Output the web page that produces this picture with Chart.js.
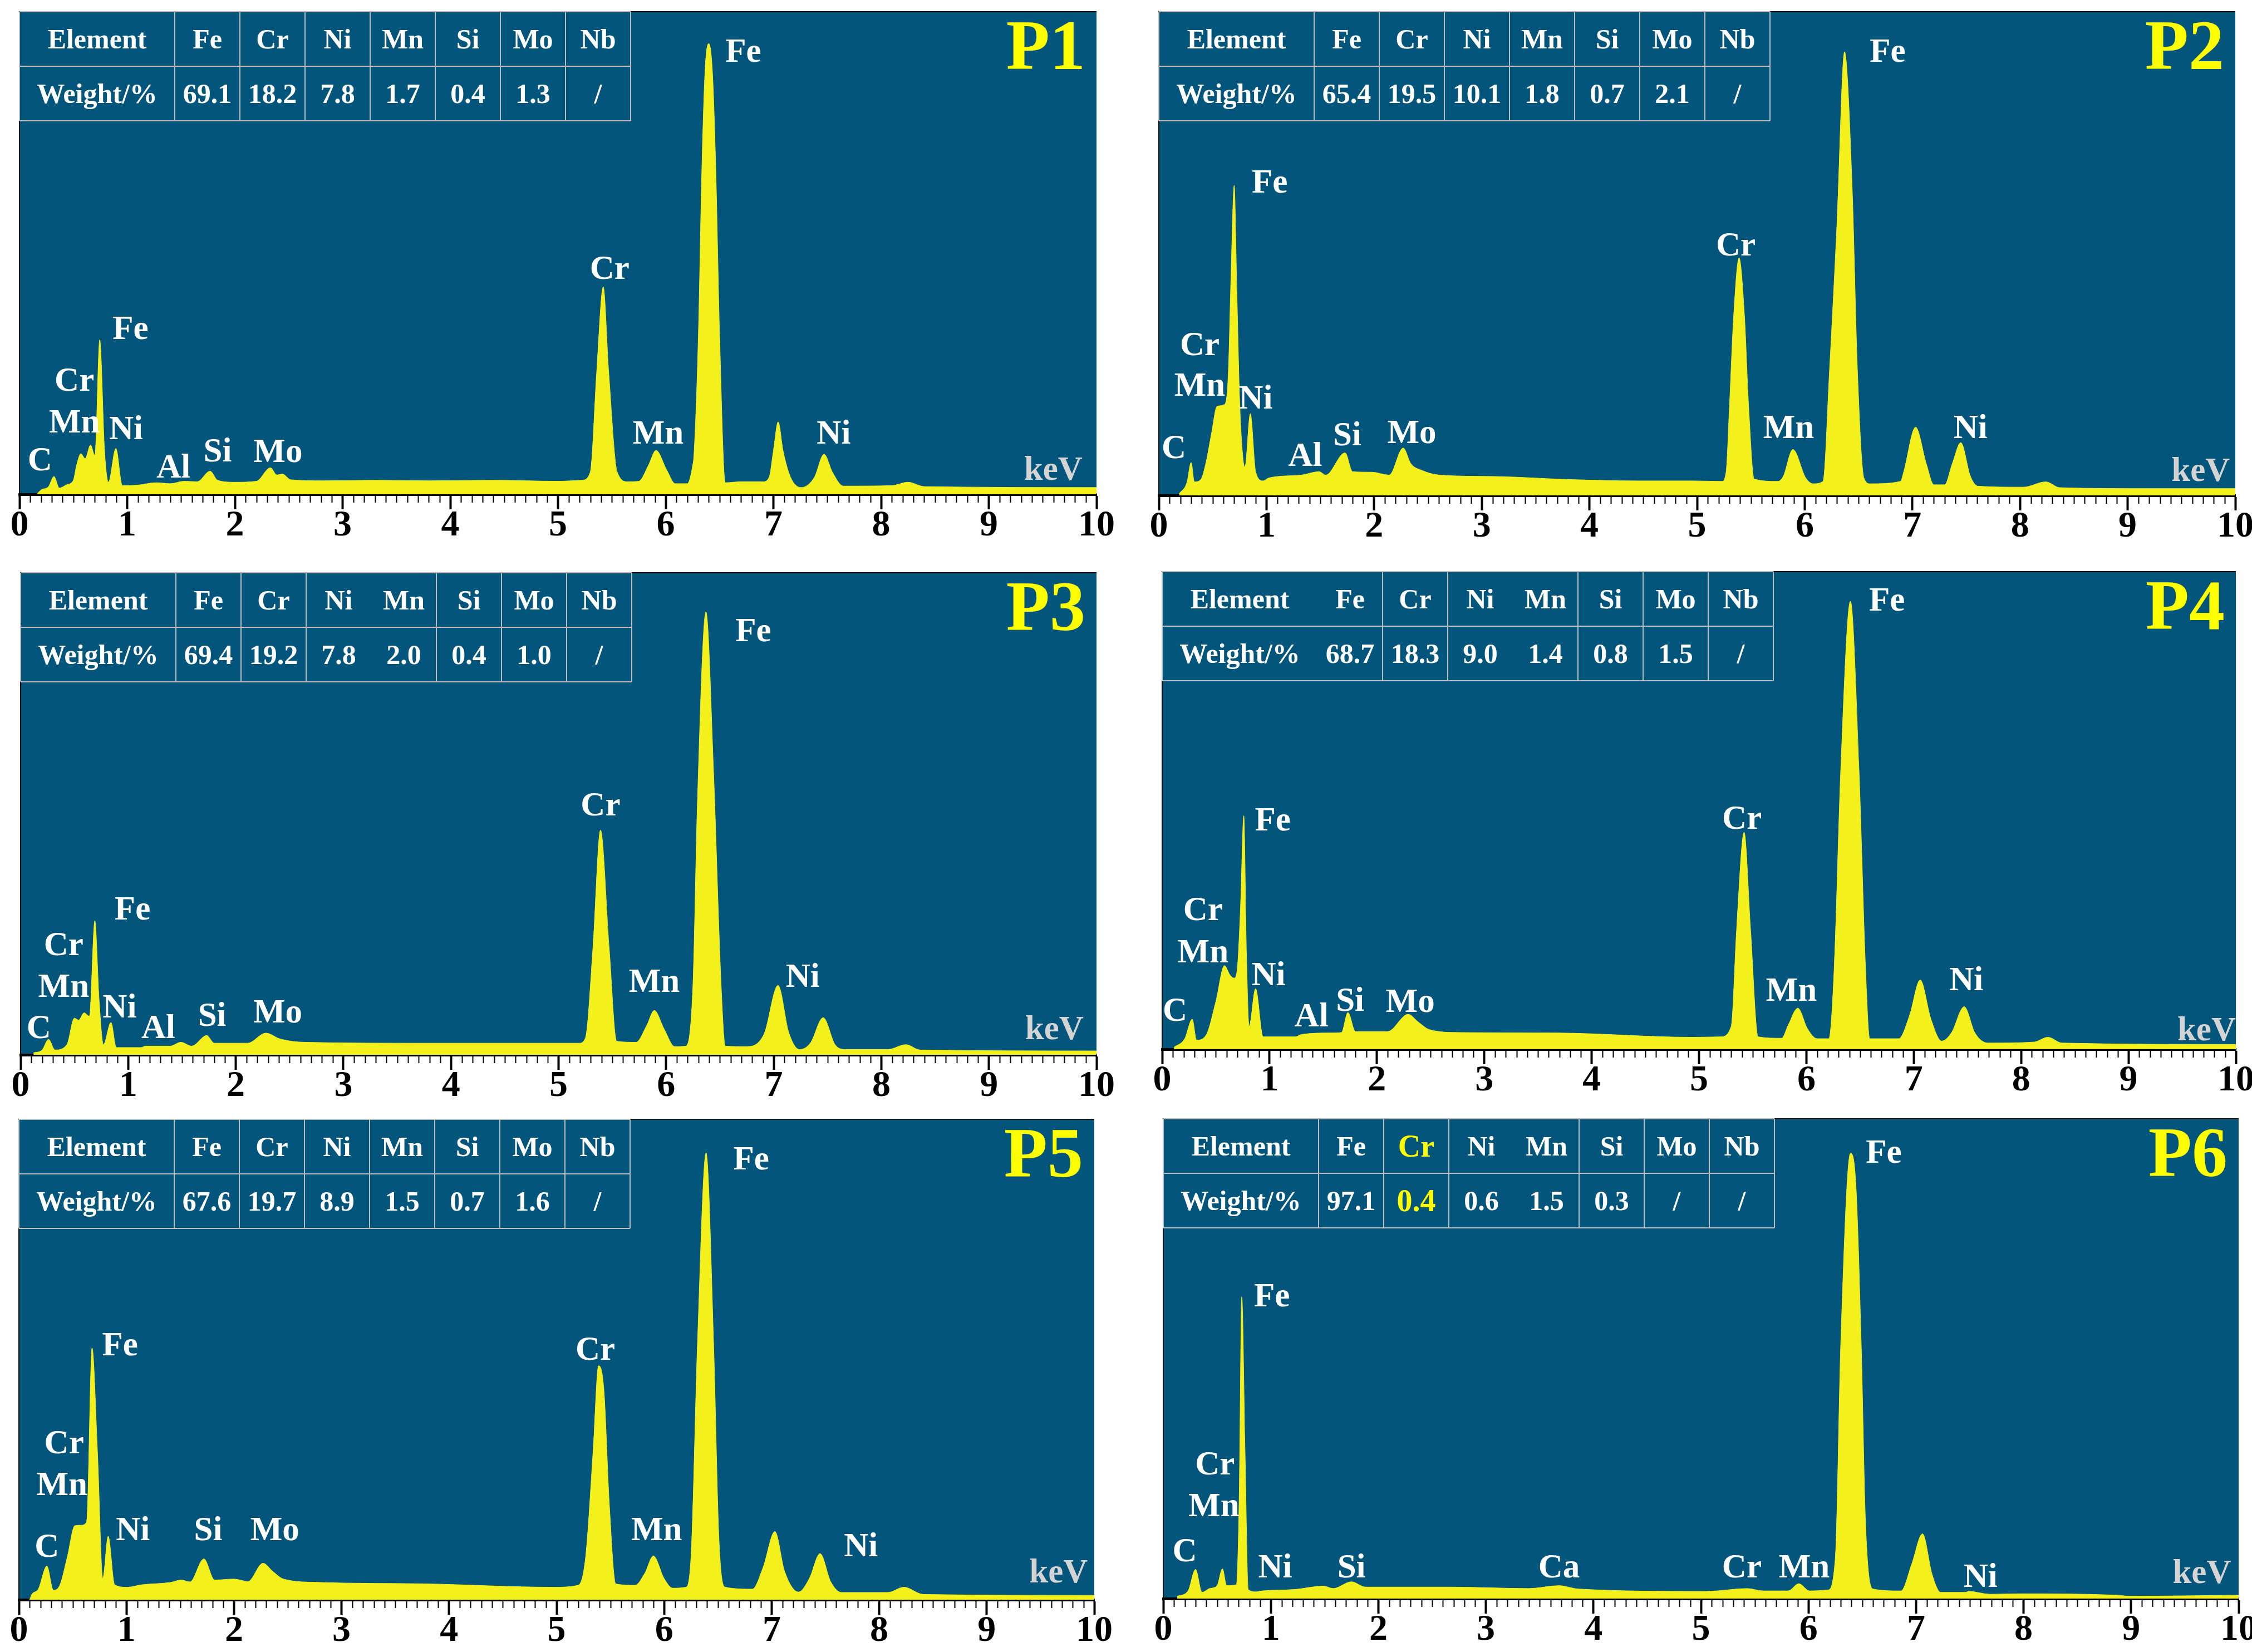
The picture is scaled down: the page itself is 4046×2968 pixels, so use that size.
<!DOCTYPE html>
<html>
<head>
<meta charset="utf-8">
<script src="https://cdn.jsdelivr.net/npm/chart.js@4.4.1/dist/chart.umd.min.js"></script>
<style>
  html, body { margin: 0; padding: 0; background: #fff; }
  body { width: 4046px; height: 2968px; position: relative; overflow: hidden; }
  canvas { position: absolute; }
</style>
</head>
<body>
<script>
// table
const elements = ["Fe", "Cr", "Ni", "Mn", "Si", "Mo", "Nb"];
const p1Weight = ["69.1", "18.2", "7.8", "1.7", "0.4", "1.3", "/"];
const p2Weight = ["65.4", "19.5", "10.1", "1.8", "0.7", "2.1", "/"];
const p3Weight = ["69.4", "19.2", "7.8", "2.0", "0.4", "1.0", "/"];
const p4Weight = ["68.7", "18.3", "9.0", "1.4", "0.8", "1.5", "/"];
const p5Weight = ["67.6", "19.7", "8.9", "1.5", "0.7", "1.6", "/"];
const p6Weight = ["97.1", "0.4", "0.6", "1.5", "0.3", "/", "/"];

const xTicks = [0, 1, 2, 3, 4, 5, 6, 7, 8, 9, 10];

// spectra (keV, counts as % of full scale)
const p1Kev = [0.16, 0.2, 0.27, 0.32, 0.37, 0.44, 0.5, 0.53, 0.57, 0.61, 0.66, 0.7, 0.745, 0.79, 0.826, 0.895, 0.955, 1.1, 1.27, 1.4, 1.53, 1.65, 1.77, 1.84, 2.0, 2.2, 2.33, 2.39, 2.44, 2.52, 2.82, 3.3, 3.8, 4.4, 5.0, 5.22, 5.3, 5.36, 5.42, 5.47, 5.55, 5.65, 5.75, 5.84, 5.91, 6.01, 6.09, 6.2, 6.25, 6.263, 6.303, 6.336, 6.365, 6.4, 6.435, 6.465, 6.501, 6.553, 6.7, 6.9, 6.96, 7.0, 7.044, 7.09, 7.16, 7.26, 7.38, 7.47, 7.55, 7.65, 8.1, 8.25, 8.4, 10.0];
const p1Counts = [0, 0.9, 1.6, 3.7, 1.3, 2.0, 2.9, 6.0, 8.4, 7.4, 10.2, 8.0, 32.0, 9.0, 2.5, 9.5, 1.8, 1.9, 2.4, 2.2, 2.7, 2.6, 4.8, 2.9, 2.5, 2.7, 5.5, 4.0, 4.2, 3.0, 2.8, 2.9, 2.8, 2.9, 2.7, 2.9, 4.6, 25.6, 43.0, 25.6, 4.6, 2.6, 2.7, 6.0, 9.1, 5.0, 2.2, 2.2, 5.9, 8.4, 32.6, 67.5, 87.6, 93.4, 87.0, 67.5, 32.6, 2.4, 2.6, 2.6, 3.5, 9.0, 15.0, 9.0, 3.5, 1.4, 3.5, 8.3, 4.5, 1.7, 1.8, 2.5, 1.6, 1.4];

const p2Kev = [0.19, 0.26, 0.3, 0.33, 0.39, 0.44, 0.49, 0.54, 0.61, 0.645, 0.67, 0.7, 0.725, 0.75, 0.78, 0.8, 0.85, 0.9, 0.97, 1.02, 1.32, 1.49, 1.55, 1.73, 1.8, 1.98, 2.14, 2.27, 2.34, 2.44, 2.61, 3.13, 3.79, 4.45, 4.95, 5.23, 5.27, 5.3, 5.34, 5.39, 5.44, 5.48, 5.53, 5.75, 5.8, 5.89, 6.01, 6.08, 6.17, 6.23, 6.3, 6.37, 6.44, 6.49, 6.55, 6.61, 6.89, 6.92, 7.03, 7.13, 7.2, 7.3, 7.37, 7.45, 7.54, 7.61, 8.03, 8.24, 8.37, 9.23, 10.0];
const p2Counts = [0.4, 2.6, 6.8, 2.8, 3.3, 7.0, 12.9, 18.4, 18.8, 25.0, 45.0, 64.1, 42.0, 20.0, 8.0, 5.9, 16.9, 4.8, 3.0, 3.6, 4.2, 4.9, 4.2, 8.8, 4.9, 4.8, 4.2, 9.8, 6.6, 5.2, 4.2, 3.9, 3.3, 3.0, 3.0, 2.9, 4.9, 18.0, 37.2, 49.1, 37.2, 18.0, 3.4, 2.9, 3.9, 9.5, 3.6, 2.4, 2.9, 25.7, 56.3, 91.7, 64.0, 25.7, 3.6, 2.4, 2.9, 4.9, 14.1, 6.5, 2.2, 2.2, 6.5, 10.9, 3.9, 1.9, 1.7, 2.8, 1.6, 1.4, 1.4];

const p3Kev = [0.12, 0.2, 0.26, 0.32, 0.43, 0.5, 0.54, 0.59, 0.64, 0.69, 0.73, 0.77, 0.84, 0.89, 1.12, 1.16, 1.39, 1.49, 1.59, 1.73, 1.8, 2.11, 2.28, 2.41, 2.64, 3.77, 5.19, 5.25, 5.32, 5.39, 5.47, 5.54, 5.72, 5.82, 5.89, 5.98, 6.08, 6.18, 6.25, 6.29, 6.37, 6.44, 6.51, 6.55, 6.74, 6.91, 7.04, 7.14, 7.24, 7.34, 7.46, 7.57, 7.67, 8.06, 8.23, 8.36, 10.0];
const p3Counts = [0.4, 1.0, 3.2, 1.0, 2.1, 7.6, 7.2, 8.7, 8.0, 27.8, 11.3, 2.1, 6.7, 1.5, 1.5, 1.8, 1.8, 2.6, 1.8, 4.0, 2.4, 2.4, 4.5, 3.3, 2.6, 2.4, 2.4, 3.5, 22.3, 46.6, 22.3, 2.8, 2.6, 6.1, 9.2, 5.4, 1.7, 1.8, 15.0, 51.8, 91.9, 59.1, 15.0, 1.8, 1.7, 4.3, 14.4, 4.6, 1.1, 2.4, 7.7, 2.1, 1.1, 1.1, 2.1, 1.0, 0.8];

const p4Kev = [0.11, 0.21, 0.28, 0.32, 0.41, 0.5, 0.58, 0.63, 0.67, 0.7, 0.73, 0.76, 0.785, 0.81, 0.87, 0.94, 1.24, 1.3, 1.57, 1.67, 1.73, 1.8, 2.1, 2.29, 2.39, 2.49, 2.76, 3.68, 4.94, 5.2, 5.3, 5.35, 5.42, 5.48, 5.55, 5.77, 5.83, 5.92, 6.01, 6.1, 6.21, 6.26, 6.32, 6.41, 6.49, 6.55, 6.59, 6.86, 6.96, 7.06, 7.16, 7.26, 7.35, 7.47, 7.57, 7.69, 8.12, 8.25, 8.38, 10.0];
const p4Counts = [0.4, 2.2, 6.3, 1.9, 3.0, 10.0, 17.5, 15.6, 14.9, 17.0, 30.0, 48.9, 20.0, 4.8, 12.7, 2.6, 2.6, 3.1, 3.4, 3.5, 7.7, 3.7, 3.7, 7.3, 5.6, 4.1, 3.5, 3.4, 2.5, 2.6, 4.8, 25.0, 45.4, 25.0, 2.6, 2.3, 5.0, 8.6, 4.3, 2.2, 2.2, 17.5, 58.5, 93.8, 58.5, 17.5, 2.2, 2.2, 7.0, 14.5, 6.3, 1.7, 3.4, 8.9, 3.4, 1.3, 1.5, 2.5, 1.3, 1.0];

const p5Kev = [0.1, 0.12, 0.18, 0.26, 0.32, 0.38, 0.45, 0.52, 0.58, 0.63, 0.68, 0.73, 0.78, 0.83, 0.89, 1.01, 1.14, 1.41, 1.51, 1.59, 1.72, 1.82, 2.0, 2.13, 2.27, 2.36, 2.46, 2.79, 3.78, 4.97, 5.2, 5.27, 5.34, 5.39, 5.44, 5.49, 5.55, 5.73, 5.82, 5.9, 6.0, 6.08, 6.2, 6.25, 6.31, 6.39, 6.46, 6.51, 6.57, 6.82, 6.92, 7.03, 7.12, 7.25, 7.35, 7.45, 7.55, 7.65, 8.08, 8.23, 8.41, 10.0];
const p5Counts = [0, 1.1, 2.2, 7.0, 2.0, 3.0, 8.9, 15.4, 15.5, 16.3, 52.4, 31.0, 4.4, 13.2, 3.1, 2.6, 3.1, 3.6, 4.1, 3.7, 8.5, 4.1, 4.3, 3.8, 7.6, 5.9, 4.3, 3.6, 3.3, 2.6, 3.0, 8.9, 31.1, 48.7, 43.6, 20.0, 3.3, 3.0, 5.5, 9.1, 4.4, 2.4, 2.6, 8.9, 53.3, 93.0, 53.3, 12.6, 2.6, 2.2, 6.7, 14.2, 5.9, 1.6, 4.4, 9.6, 3.7, 1.5, 1.5, 2.6, 1.1, 0.9];

const p6Kev = [0.13, 0.23, 0.3, 0.36, 0.43, 0.5, 0.55, 0.59, 0.68, 0.705, 0.73, 0.76, 0.79, 0.86, 0.92, 1.22, 1.49, 1.58, 1.75, 1.88, 2.67, 3.4, 3.68, 3.86, 5.05, 5.43, 5.58, 5.81, 5.91, 6.01, 6.18, 6.25, 6.3, 6.39, 6.44, 6.49, 6.53, 6.6, 6.86, 6.96, 7.06, 7.15, 7.23, 7.46, 7.49, 7.69, 7.95, 8.88, 8.98, 10.0];
const p6Counts = [0.5, 1.6, 6.1, 1.3, 2.1, 2.7, 6.2, 2.7, 2.9, 20.0, 62.9, 30.9, 1.9, 1.4, 1.6, 1.9, 2.6, 2.1, 3.5, 2.4, 2.4, 2.1, 2.7, 2.0, 1.5, 2.1, 1.6, 1.6, 3.1, 1.6, 1.8, 8.7, 53.2, 92.8, 86.5, 53.2, 16.1, 2.0, 1.6, 7.2, 13.5, 5.0, 1.3, 1.3, 1.5, 0.9, 1.0, 0.7, 0.5, 0.7];

// peak labels, placed in data units
const p1Labels = [["C", 0.19, 5.0], ["Cr", 0.51, 21.5], ["Mn", 0.51, 12.8], ["Fe", 1.03, 32.2], ["Ni", 0.99, 11.4], ["Al", 1.43, 3.5], ["Si", 1.84, 6.8], ["Mo", 2.40, 6.7], ["Cr", 5.48, 44.6], ["Mn", 5.93, 10.5], ["Fe", 6.72, 89.6], ["Ni", 7.56, 10.5]];
const p2Labels = [["C", 0.14, 7.7], ["Cr", 0.38, 29.0], ["Mn", 0.38, 20.6], ["Fe", 1.03, 62.6], ["Ni", 0.90, 17.9], ["Al", 1.36, 6.1], ["Si", 1.75, 10.3], ["Mo", 2.35, 10.8], ["Cr", 5.36, 49.6], ["Mn", 5.85, 11.8], ["Fe", 6.77, 89.7], ["Ni", 7.54, 11.8]];
const p3Labels = [["C", 0.17, 3.5], ["Cr", 0.40, 20.7], ["Mn", 0.40, 12.0], ["Fe", 1.04, 28.1], ["Ni", 0.92, 7.7], ["Al", 1.28, 3.5], ["Si", 1.78, 6.0], ["Mo", 2.39, 6.7], ["Cr", 5.39, 49.6], ["Mn", 5.89, 13.1], ["Fe", 6.81, 85.8], ["Ni", 7.27, 14.1]];
const p4Labels = [["C", 0.12, 6.0], ["Cr", 0.38, 27.0], ["Mn", 0.38, 18.2], ["Fe", 1.03, 45.8], ["Ni", 0.99, 13.4], ["Al", 1.39, 4.8], ["Si", 1.75, 8.0], ["Mo", 2.31, 7.8], ["Cr", 5.40, 46.2], ["Mn", 5.86, 10.1], ["Fe", 6.75, 91.8], ["Ni", 7.49, 12.4]];
const p5Labels = [["C", 0.26, 8.9], ["Cr", 0.42, 30.5], ["Mn", 0.40, 21.8], ["Fe", 0.94, 50.9], ["Ni", 1.06, 12.4], ["Si", 1.76, 12.4], ["Mo", 2.38, 12.4], ["Cr", 5.36, 49.9], ["Mn", 5.93, 12.4], ["Fe", 6.81, 89.6], ["Ni", 7.83, 9.0]];
const p6Labels = [["C", 0.20, 7.8], ["Cr", 0.48, 25.9], ["Mn", 0.47, 17.2], ["Fe", 1.01, 60.9], ["Ni", 1.04, 4.4], ["Si", 1.75, 4.4], ["Ca", 3.68, 4.4], ["Cr", 5.38, 4.4], ["Mn", 5.96, 4.4], ["Fe", 6.70, 90.8], ["Ni", 7.60, 2.4]];

const BLUE = "#03557C";
const YELLOW = "#F3F01B";
const SERIF = "'Liberation Serif', 'Times New Roman', serif";
const PADX = 45, PADT = 3, AXISH = 90;

const panels = [
  { name: "P1", kev: p1Kev, counts: p1Counts, weight: p1Weight, labels: p1Labels, noLine: [], hi: -1, kevAt: [9.87, 3.0], box: [35, 21, 1970, 888] },
  { name: "P2", kev: p2Kev, counts: p2Counts, weight: p2Weight, labels: p2Labels, noLine: [], hi: -1, kevAt: [9.95, 3.0], box: [2082, 21, 4016, 890] },
  { name: "P3", kev: p3Kev, counts: p3Counts, weight: p3Weight, labels: p3Labels, noLine: [4], hi: -1, kevAt: [9.88, 3.2], box: [37, 1029, 1970, 1895] },
  { name: "P4", kev: p4Kev, counts: p4Counts, weight: p4Weight, labels: p4Labels, noLine: [1, 4], hi: -1, kevAt: [10.0, 1.9], box: [2088, 1027, 4017, 1885] },
  { name: "P5", kev: p5Kev, counts: p5Counts, weight: p5Weight, labels: p5Labels, noLine: [], hi: -1, kevAt: [9.94, 3.6], box: [34, 2011, 1966, 2874] },
  { name: "P6", kev: p6Kev, counts: p6Counts, weight: p6Weight, labels: p6Labels, noLine: [4], hi: 1, kevAt: [9.93, 3.3], box: [2090, 2010, 4022, 2872] },
];

function drawTable(ctx, area, p) {
  const w0 = 279, w = 117, h = 98;
  const xs = [area.left, area.left + w0];
  for (let i = 1; i <= elements.length; i++) xs.push(area.left + w0 + i * w);
  const y0 = area.top;
  ctx.save();
  ctx.strokeStyle = "#BDBDBD";
  ctx.lineWidth = 2;
  ctx.beginPath();
  for (let r = 0; r <= 2; r++) {
    ctx.moveTo(xs[0], y0 + r * h);
    ctx.lineTo(xs[xs.length - 1], y0 + r * h);
  }
  xs.forEach((x, i) => {
    if (p.noLine.includes(i)) return;
    ctx.moveTo(x, y0);
    ctx.lineTo(x, y0 + 2 * h);
  });
  ctx.stroke();
  ctx.textAlign = "center";
  ctx.textBaseline = "alphabetic";
  const rows = [["Element"].concat(elements), ["Weight/%"].concat(p.weight)];
  rows.forEach((row, r) => {
    row.forEach((txt, c) => {
      const cx = (xs[c] + xs[c + 1]) / 2;
      const hot = p.hi >= 0 && c - 1 === p.hi;
      ctx.fillStyle = hot ? "#FFFF00" : "#FFFFFF";
      ctx.font = (hot ? "bold 56px " : "bold 50px ") + SERIF;
      ctx.fillText(txt, cx, y0 + r * h + h / 2 + (hot ? 19 : 17));
    });
  });
  ctx.restore();
}

const spectrumDecor = {
  id: "spectrumDecor",
  beforeDraw(chart) {
    const { ctx, chartArea: a } = chart;
    ctx.save();
    ctx.fillStyle = BLUE;
    ctx.fillRect(a.left, a.top, a.right - a.left, a.bottom - a.top);
    ctx.strokeStyle = "#111";
    ctx.lineWidth = 2;
    ctx.beginPath();
    ctx.moveTo(a.left, a.bottom);
    ctx.lineTo(a.left, a.top);
    ctx.lineTo(a.right, a.top);
    ctx.stroke();
    ctx.restore();
  },
  afterDraw(chart) {
    const p = chart.config.options.plugins.spectrumDecor.panel;
    const { ctx, chartArea: a } = chart;
    const xs = chart.scales.x, ys = chart.scales.y;
    ctx.save();
    // minor ticks every 0.1 keV
    ctx.strokeStyle = "#000";
    ctx.lineWidth = 2;
    ctx.beginPath();
    for (let i = 1; i < 100; i++) {
      if (i % 10 === 0) continue;
      const x = Math.round(xs.getPixelForValue(i / 10)) + 0.5;
      ctx.moveTo(x, a.bottom);
      ctx.lineTo(x, a.bottom + 15);
    }
    ctx.stroke();
    drawTable(ctx, a, p);
    // peak labels
    ctx.fillStyle = "#FFFFFF";
    ctx.font = "bold 61px " + SERIF;
    ctx.textAlign = "center";
    ctx.textBaseline = "alphabetic";
    p.labels.forEach(([t, x, y]) => {
      ctx.fillText(t, xs.getPixelForValue(x), ys.getPixelForValue(y));
    });
    ctx.fillStyle = "#D4D4D4";
    ctx.textAlign = "right";
    ctx.fillText("keV", xs.getPixelForValue(p.kevAt[0]), ys.getPixelForValue(p.kevAt[1]));
    ctx.fillStyle = "#FFFF00";
    ctx.font = "bold 128px " + SERIF;
    ctx.fillText(p.name, a.right - 20, a.top + 103);
    ctx.restore();
  }
};

panels.forEach((p) => {
  const [l, t, r, b] = p.box;
  const canvas = document.createElement("canvas");
  canvas.width = r - l + 2 * PADX;
  canvas.height = b - t + PADT + AXISH;
  canvas.style.left = (l - PADX) + "px";
  canvas.style.top = (t - PADT) + "px";
  canvas.style.width = canvas.width + "px";
  canvas.style.height = canvas.height + "px";
  document.body.appendChild(canvas);

  new Chart(canvas.getContext("2d"), {
    type: "line",
    data: {
      datasets: [{
        data: p.kev.map((x, i) => ({ x: x, y: p.counts[i] })),
        backgroundColor: YELLOW,
        borderColor: YELLOW,
        borderWidth: 1,
        pointRadius: 0,
        fill: "origin",
        cubicInterpolationMode: "monotone",
      }],
    },
    options: {
      responsive: false,
      animation: false,
      devicePixelRatio: 1,
      layout: { padding: { left: PADX, right: PADX, top: PADT, bottom: 0 } },
      plugins: {
        legend: { display: false },
        tooltip: { enabled: false },
        spectrumDecor: { panel: p },
      },
      scales: {
        x: {
          type: "linear",
          min: 0,
          max: 10,
          z: 1,
          afterFit: (s) => { s.height = AXISH; },
          afterBuildTicks: (s) => { s.ticks = xTicks.map((v) => ({ value: v })); },
          border: { display: true, color: "#000", width: 5 },
          grid: { drawOnChartArea: false, drawTicks: true, tickLength: 27, tickWidth: 4, tickColor: "#000" },
          ticks: {
            autoSkip: false,
            maxRotation: 0,
            color: "#000",
            padding: -10,
            font: { family: SERIF, size: 66, weight: "bold" },
          },
        },
        y: { display: false, min: 0, max: 100 },
      },
    },
    plugins: [spectrumDecor],
  });
});
</script>
</body>
</html>
